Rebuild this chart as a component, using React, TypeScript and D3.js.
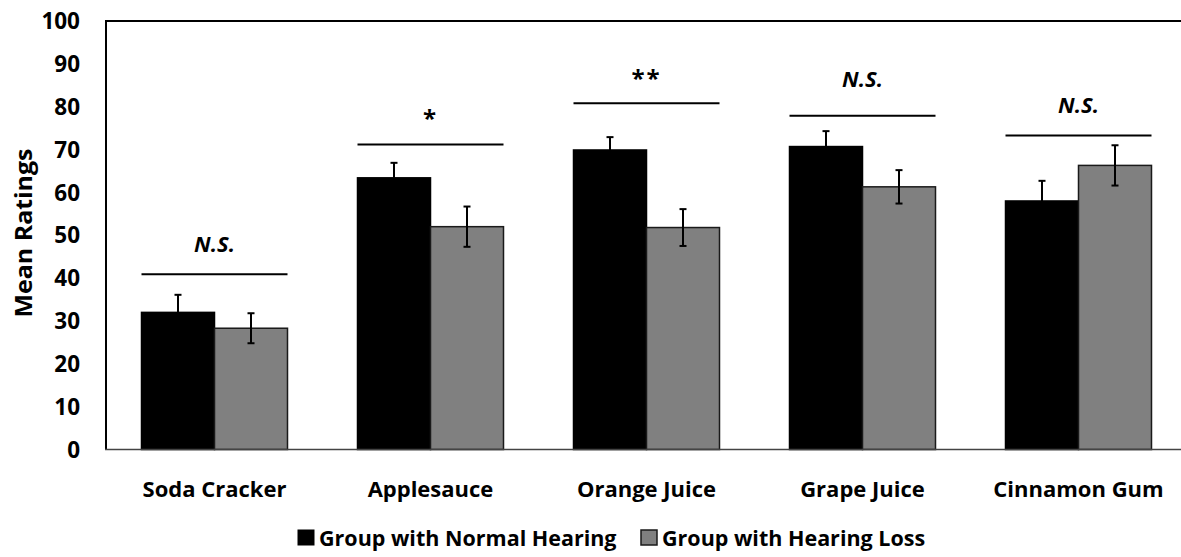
import React from "react";
import * as d3 from "d3";

// Stimuli and group means (mean rating, standard error)
const categories = ["Soda Cracker", "Applesauce", "Orange Juice", "Grape Juice", "Cinnamon Gum"];
const normalMeans = [32.0, 63.4, 69.9, 70.7, 58.0];
const normalErrors = [4.1, 3.5, 3.0, 3.6, 4.7];
const lossMeans = [28.3, 52.0, 51.8, 61.3, 66.3];
const lossErrors = [3.5, 4.7, 4.3, 3.9, 4.7];

// Significance markers: label, bracket level and label baseline level (rating units)
const sigLabels = ["N.S.", "*", "**", "N.S.", "N.S."];
const sigLineLevels = [40.9, 71.2, 80.8, 77.9, 73.3];
const sigTextLevels = [46.1, 75.3, 84.6, 84.6, 78.5];

const yTicks = [0, 10, 20, 30, 40, 50, 60, 70, 80, 90, 100];
const seriesNames = ["Group with Normal Hearing", "Group with Hearing Loss"];

const W = 1181;
const H = 557;
const FONT = "'Open Sans', Lato, sans-serif";

export default function App() {
  const plotLeft = 106;
  const plotTop = 21;
  const plotBottom = 449.5;

  const y = d3.scaleLinear().domain([0, 100]).range([plotBottom, plotTop]);
  const x = d3.scaleBand<string>().domain(categories).range([106.5, 1186.5]).padding(0);
  const barW = 73;

  const center = (c: string) => (x(c) as number) + x.bandwidth() / 2;

  const series = [
    { means: normalMeans, errs: normalErrors, fill: "#000000", stroke: "#000000", offset: -barW },
    { means: lossMeans, errs: lossErrors, fill: "#808080", stroke: "#1a1a1a", offset: 0 },
  ];

  const legendFont = 21.5;

  return (
    <svg
      width={W}
      height={H}
      style={{ position: "absolute", left: 0, top: 0, background: "#fff" }}
      fontFamily={FONT}
    >
      {/* bars */}
      {series.map((s, si) =>
        categories.map((c, i) => {
          const x0 = center(c) + s.offset;
          const top = y(s.means[i]);
          return (
            <rect
              key={`b${si}-${i}`}
              x={x0}
              y={top}
              width={barW}
              height={plotBottom - top}
              fill={s.fill}
              stroke={s.stroke}
              strokeWidth={1.5}
            />
          );
        })
      )}

      {/* error bars */}
      {series.map((s, si) =>
        categories.map((c, i) => {
          const cx = center(c) + s.offset + barW / 2;
          const hi = y(s.means[i] + s.errs[i]);
          const lo = y(s.means[i] - s.errs[i]);
          const lowEnd = si === 0 ? y(s.means[i]) : lo;
          return (
            <g key={`e${si}-${i}`} stroke="#000" strokeWidth={2}>
              <line x1={cx} x2={cx} y1={hi} y2={lowEnd} />
              <line x1={cx - 3.5} x2={cx + 3.5} y1={hi} y2={hi} />
              {si === 1 && <line x1={cx - 3.5} x2={cx + 3.5} y1={lo} y2={lo} />}
            </g>
          );
        })
      )}

      {/* significance brackets */}
      {categories.map((c, i) => {
        const cx = center(c);
        const ly = y(sigLineLevels[i]);
        const isStar = sigLabels[i].startsWith("*");
        return (
          <g key={`s${i}`}>
            <line x1={cx - 73} x2={cx + 73} y1={ly} y2={ly} stroke="#000" strokeWidth={2} />
            <text
              x={cx}
              y={y(sigTextLevels[i])}
              textAnchor="middle"
              fontSize={isStar ? 24 : 22}
              fontWeight={700}
              fontStyle={isStar ? "normal" : "italic"}
              letterSpacing={isStar ? 2 : 0}
              fill="#000"
            >
              {sigLabels[i]}
            </text>
          </g>
        );
      })}

      {/* axes frame */}
      <line x1={plotLeft} x2={W} y1={plotTop} y2={plotTop} stroke="#000" strokeWidth={2} />
      <line x1={plotLeft} x2={plotLeft} y1={plotTop - 1} y2={plotBottom} stroke="#000" strokeWidth={2} />
      <line x1={plotLeft - 1} x2={W} y1={plotBottom} y2={plotBottom} stroke="#444" strokeWidth={1.5} />

      {/* y tick labels */}
      {yTicks.map((t) => (
        <text
          key={`t${t}`}
          x={80}
          y={y(t)}
          dy="0.36em"
          textAnchor="end"
          fontSize={22.5}
          fontWeight={700}
          fill="#000"
        >
          {t}
        </text>
      ))}

      {/* y axis title */}
      <text
        transform={`translate(32, 233) rotate(-90)`}
        textAnchor="middle"
        fontSize={23}
        fontWeight={700}
        textLength={169}
        lengthAdjust="spacingAndGlyphs"
        fill="#000"
      >
        Mean Ratings
      </text>

      {/* category labels */}
      {categories.map((c) => (
        <text
          key={`c${c}`}
          x={center(c)}
          y={497}
          textAnchor="middle"
          fontSize={22}
          fontWeight={700}
          fill="#000"
        >
          {c}
        </text>
      ))}

      {/* legend */}
      <g>
        <rect x={298} y={530} width={16} height={15} fill="#000" stroke="#000" strokeWidth={1} />
        <text x={319} y={546} fontSize={legendFont} fontWeight={700} fill="#000">
          {seriesNames[0]}
        </text>
        <rect x={641} y={530} width={16} height={15} fill="#808080" stroke="#1a1a1a" strokeWidth={1.5} />
        <text x={662} y={546} fontSize={legendFont} fontWeight={700} fill="#000">
          {seriesNames[1]}
        </text>
      </g>
    </svg>
  );
}
